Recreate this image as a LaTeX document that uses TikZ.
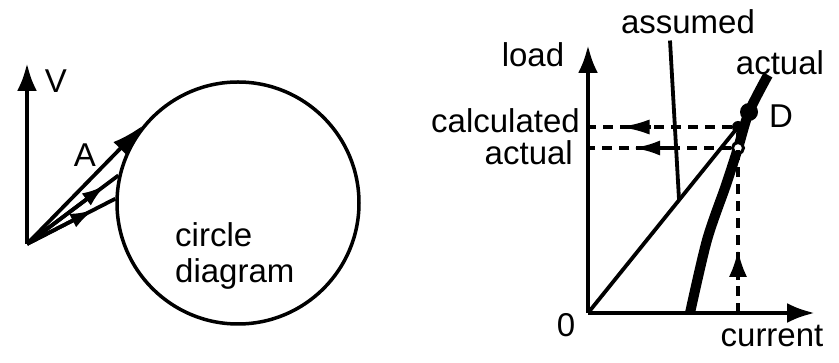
\documentclass[tikz,border=0pt]{standalone}
\usepackage{fontspec}
\setmainfont{Liberation Sans}
\usetikzlibrary{arrows.meta, calc, positioning}

\begin{document}
\begin{tikzpicture}[x=1pt,y=-1pt,>={Latex[length=28pt,width=20pt]},
    every node/.style={font=\fontsize{33}{38}\selectfont, inner sep=0pt},
    asse/.style={line width=4.5pt},
    linea/.style={line width=3.8pt},
    tratt/.style={line width=3.8pt, dash pattern=on 10pt off 7pt},
    punta/.style={-{Latex[length=24pt,width=15pt]}, line width=3.8pt}]
    \useasboundingbox (0,0) rectangle (839,363);
    % Diagramma del cerchio
    \coordinate (O1) at (27,244);
    \coordinate (Vtop) at (27,63);
    \draw[->,asse] (O1) -- (Vtop);
    \node[anchor=base] (V) at (56,93) {V};
    \node[circle, draw, line width=3.5pt, minimum size=242pt] (cerchio) at (238,203) {};
    % Vettori
    \draw[-{Latex[length=32pt,width=19pt]},linea] (O1) -- (cerchio.141);
    \draw[linea] (O1) -- (cerchio.167);
    \draw[punta] (O1) -- ($(O1)!0.86!(cerchio.167)$);
    \draw[linea] (O1) -- (cerchio.178);
    \draw[punta] (O1) -- ($(O1)!0.76!(cerchio.178)$);
    \node[anchor=base] (A) at (85,167) {A};
    \node[anchor=base west] (circ) at (175,247) {circle};
    \node[anchor=base west] (diag) at (175,283) {diagram};
    % Assi
    \coordinate (O2) at (588,313);
    \coordinate (Ltop) at (588,45);
    \coordinate (Cend) at (815,313);
    \draw[->,asse] (O2) -- (Ltop);
    \draw[->,asse] (O2) -- (Cend);
    \node[anchor=base] (zero) at (566,337) {0};
    \node[anchor=base] (load) at (533,67) {load};
    \node[anchor=base] (current) at (772,347) {current};
    % Retta assunta e curva reale
    \coordinate (Cpt) at (738,127);
    \coordinate (Qpt) at (738,148);
    \draw[linea] (O2) -- (Cpt);
    \draw[line width=10pt] plot[smooth] coordinates {(690,313) (707,240) (726,185) (738,148) (749,112) (768,75)};
    \node[circle, fill, minimum size=18pt] (puntoD) at (749,112) {};
    \node[anchor=base] (D) at (781,128) {D};
    \node[anchor=base] (reale2) at (780,75) {actual};
    \node[circle, draw, fill=white, line width=3pt, minimum size=11pt] (reale) at (Qpt) {};
    \node[circle, fill, minimum size=12pt] (calc) at (Cpt) {};
    % Etichetta assunta
    \node[anchor=base] (assunto) at (688,34) {assumed};
    \coordinate (piede) at ($(O2)!0.607!(Cpt)$);
    \draw[linea] ([xshift=-18pt,yshift=-6pt]assunto.south) -- (piede);
    % Linee tratteggiate
    \coordinate (Ccur) at (O2 -| Cpt);
    \coordinate (Casse) at (O2 |- Cpt);
    \coordinate (Qasse) at (O2 |- Qpt);
    \draw[tratt] (Ccur) -- (calc);
    \draw[-{Latex[length=27pt,width=18pt]},linea] ($(Ccur)!0.18!(Cpt)$) -- ($(Ccur)!0.34!(Cpt)$);
    \draw[tratt] (calc) -- (Casse);
    \draw[-{Latex[length=30pt,width=15pt]},linea] ($(Casse)!0.42!(Cpt)$) -- ($(Casse)!0.21!(Cpt)$);
    \draw[tratt] (reale) -- (Qasse);
    \draw[-{Latex[length=27pt,width=15pt]},linea] ($(Qasse)!0.59!(Qpt)$) -- ($(Qasse)!0.3!(Qpt)$);
    \node[anchor=base east] (calcolato) at (580,133) {calculated};
    \node[anchor=base east] (reale1) at (573,165) {actual};
\end{tikzpicture}
\end{document}
